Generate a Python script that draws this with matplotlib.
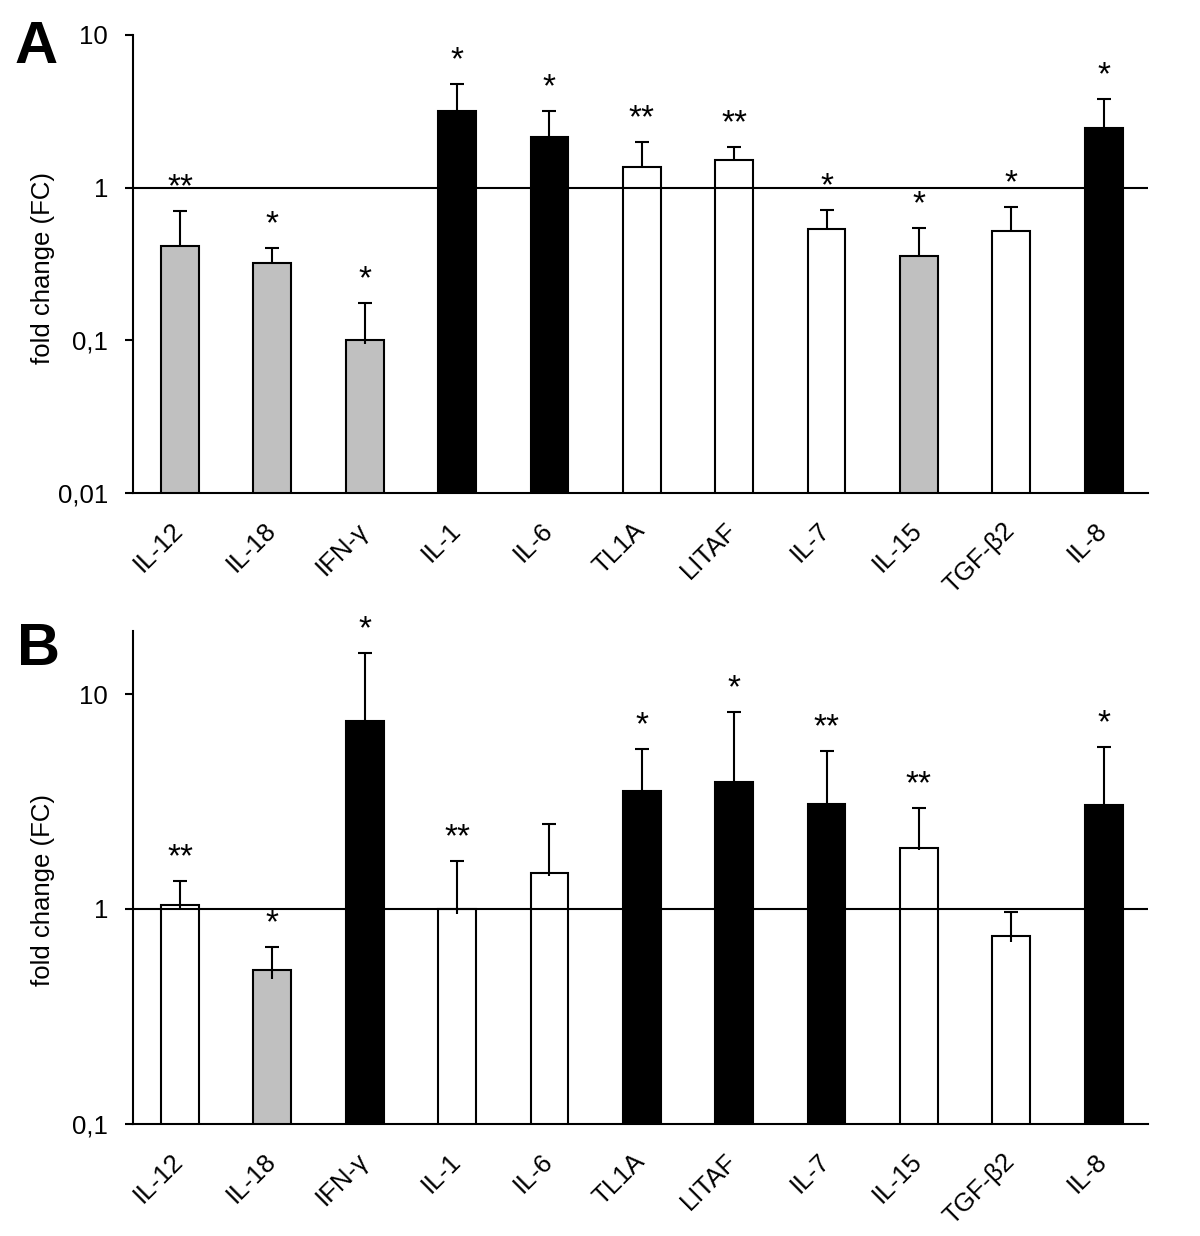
import numpy as np
import matplotlib.pyplot as plt
import matplotlib.transforms as mtransforms
from matplotlib.ticker import FixedLocator, NullLocator

plt.rcParams['font.family'] = ['Liberation Sans', 'DejaVu Sans']

genes = ['IL-12', 'IL-18', 'IFN-γ', 'IL-1', 'IL-6', 'TL1A', 'LITAF',
         'IL-7', 'IL-15', 'TGF-β2', 'IL-8']

# panel A: mean fold change and upper error limit
fc_a = [0.413, 0.316, 0.095, 3.19, 2.15, 1.37, 1.51, 0.528, 0.35, 0.518, 2.46]
top_a = [0.706, 0.405, 0.175, 4.78, 3.19, 2.0, 1.84, 0.714, 0.542, 0.748, 3.81]
col_a = ['g', 'g', 'g', 'k', 'k', 'w', 'w', 'w', 'g', 'w', 'k']
sig_a = ['**', '*', '*', '*', '*', '**', '**', '*', '*', '*', '*']

# panel B
fc_b = [0.989, 0.472, 7.45, 0.945, 1.42, 3.51, 3.86, 3.04, 1.88, 0.70, 2.99]
top_b = [1.35, 0.667, 15.6, 1.67, 2.49, 5.58, 8.3, 5.46, 2.95, 0.965, 5.7]
col_b = ['w', 'g', 'k', 'w', 'w', 'k', 'k', 'k', 'w', 'w', 'k']
sig_b = ['**', '*', '*', '**', '', '*', '*', '**', '**', '', '*']

fills = {'g': '#c0c0c0', 'k': 'black', 'w': 'white'}
fs = 18.5

fig = plt.figure(figsize=(12, 12.36), dpi=100)
ax_a = fig.add_axes([0.1108, 0.6011, 0.8458, 0.3706])
ax_b = fig.add_axes([0.1108, 0.0909, 0.8458, 0.3989])


def panel(ax, fc, top, col, sig, ylim, yticks, ylabels):
    x = np.arange(len(genes))
    ax.set_yscale('log')
    ax.bar(x, fc, width=0.41, bottom=ylim[0] * 0.5,
           color=[fills[c] for c in col], edgecolor='black', linewidth=1.5, zorder=2)
    # upper error bars only
    ax.vlines(x, fc, top, color='black', lw=1.5, zorder=3)
    ax.plot(x, top, ls='none', marker='_', ms=9.4, mew=1.5, color='black', zorder=3)
    ax.axhline(1, color='black', lw=1.5, zorder=2.5)
    for xi, t, s in zip(x, top, sig):
        if s:
            ax.annotate(s, (xi, t), xytext=(0, 10.5), textcoords='offset points',
                        ha='center', va='baseline', fontsize=24)
    ax.set_xlim(-0.51, 10.48)
    ax.set_ylim(*ylim)
    ax.yaxis.set_major_locator(FixedLocator(yticks))
    ax.yaxis.set_minor_locator(NullLocator())
    ax.set_yticklabels(ylabels)
    ax.set_xticks(x)
    ax.set_xticklabels(genes, rotation=45, ha='right', va='top', rotation_mode='anchor')
    ax.tick_params(axis='y', length=6, width=1.5, pad=12, labelsize=fs)
    ax.tick_params(axis='x', length=0, pad=24, labelsize=fs)
    shift = mtransforms.ScaledTranslation(-0.09, 0.08, fig.dpi_scale_trans)
    for lab in ax.get_xticklabels():
        lab.set_transform(lab.get_transform() + shift)
    for sp in ['top', 'right']:
        ax.spines[sp].set_visible(False)
    for sp in ['left', 'bottom']:
        ax.spines[sp].set_linewidth(1.5)
    ax.set_ylabel('fold change (FC)', fontsize=fs)


panel(ax_a, fc_a, top_a, col_a, sig_a, (0.01, 10), [0.01, 0.1, 1, 10],
      ['0,01', '0,1', '1', '10'])
panel(ax_b, fc_b, top_b, col_b, sig_b, (0.1, 19.8), [0.1, 1, 10],
      ['0,1', '1', '10'])
ax_a.yaxis.set_label_coords(-0.077, 0.492)
ax_b.yaxis.set_label_coords(-0.077, 0.474)

fig.text(0.0125, 0.949, 'A', fontsize=43, fontweight='bold', va='baseline')
fig.text(0.0142, 0.462, 'B', fontsize=43, fontweight='bold', va='baseline')

fig.savefig('out.png', dpi=100)
